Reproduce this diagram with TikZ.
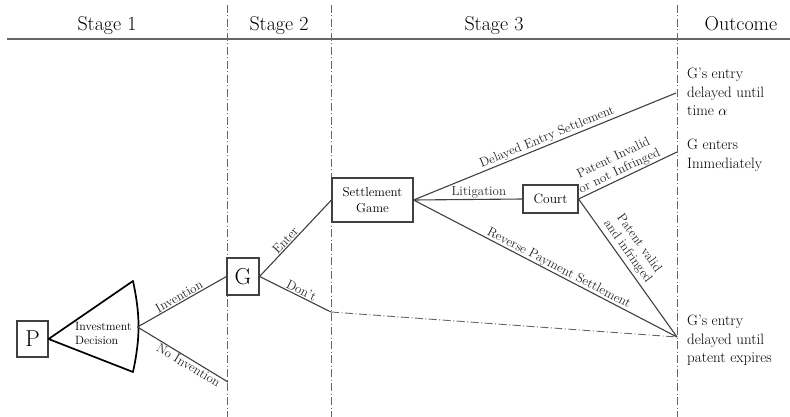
\documentclass[tikz,border=0pt]{standalone}
\usepackage{fontspec}
\usetikzlibrary{positioning}
\colorlet{linegray}{black!75}
\colorlet{stagegray}{black!60}
\tikzset{
  box/.style={draw=linegray,line width=1.1pt,inner sep=0pt,align=center},
  branch/.style={linegray,line width=1.1pt},
  stage line/.style={stagegray,line width=0.9pt,dash pattern=on 8pt off 2.5pt on 1pt off 2.5pt},
  lbl/.style={font=\fontsize{13}{14}\selectfont,sloped,inner sep=1pt,text=black!85},
  outcome/.style={font=\fontsize{15}{18.5}\selectfont,align=left,anchor=north west,inner sep=0pt},
  stage/.style={font=\fontsize{20}{24}\selectfont,anchor=base},
}

\begin{document}
\begin{tikzpicture}[x=1pt,y=-1pt]
  \useasboundingbox (0,0) rectangle (790,417);

  % STAGES
  \foreach \x in {227,331,677}{
    \draw[stage line] (\x,5) -- (\x,417);
  }
  \draw[black!60,line width=1.6pt] (7,39) -- (790,39);
  \node[stage] (stageA) at (107,31) {Stage 1};
  \node[stage] (stageB) at (279,31) {Stage 2};
  \node[stage] (stageC) at (494,31) {Stage 3};
  \node[stage] (stageO) at (741,31) {Outcome};

  % NODES
  \node[box,minimum width=31,minimum height=36,font=\fontsize{23}{24}\selectfont] (P) at (32.5,339) {P};
  \node[box,minimum width=32,minimum height=37,font=\fontsize{23}{24}\selectfont] (G) at (243,276.5) {G};
  \node[box,minimum width=81,minimum height=44,font=\fontsize{13}{16}\selectfont] (settle) at (372.5,200) {Settlement\\Game};
  \node[box,minimum width=55,minimum height=28,font=\fontsize{13.5}{15}\selectfont] (court) at (550.5,199) {Court};

  \coordinate (tritop) at (133,281);
  \coordinate (tribot) at (133,372);
  \coordinate (decide) at (137.5,327);
  \coordinate (noinv) at (228,382);
  \coordinate (dont) at (331,312);
  \coordinate (delay) at (676,93);
  \coordinate (now) at (677,152);
  \coordinate (expire) at (677,337);

  % DECISION
  \draw[black,line width=1.7pt,line join=round] (P.east) -- (tritop) to[bend left=12] (tribot) -- cycle;
  \node[font=\fontsize{12}{14}\selectfont,align=left,anchor=north west,inner sep=0pt] (invest) at (75,322) {Investment\\Decision};

  % LINES
  \draw[branch] (decide) -- node[lbl,above,pos=0.5] {Invention} (G.west);
  \draw[branch] (decide) -- node[lbl,below,pos=0.6] {No Invention} (noinv);
  \draw[branch] (G.east) -- node[lbl,above,pos=0.42] {Enter} (settle.west);
  \draw[branch] (G.east) -- node[lbl,above,pos=0.55] {Don't} (dont);
  \draw[stage line] (dont) -- (expire);
  \draw[branch] (settle.east) -- node[lbl,above,pos=0.52] {Delayed Entry Settlement} (delay);
  \draw[branch] (settle.east) -- node[lbl,above,pos=0.6,inner sep=0.5pt] {Litigation} (court.west);
  \draw[branch] (settle.east) -- node[lbl,above,pos=0.54,inner sep=0pt] {Reverse Payment Settlement} (expire);
  \draw[branch] (court.east) -- node[lbl,above,pos=0.45,align=center] {Patent Invalid\\or not Infringed} (now);
  \draw[branch] (court.east) -- node[lbl,above=2pt,pos=0.42,align=center] {Patent valid\\and infringed} (expire);

  % OUTCOMES
  \node[outcome] (late) at (687,68) {G's entry\\delayed until\\time $\alpha$};
  \node[outcome] (early) at (687,139) {G enters\\Immediately};
  \node[outcome] (expiry) at (687,315) {G's entry\\delayed until\\patent expires};
\end{tikzpicture}
\end{document}
